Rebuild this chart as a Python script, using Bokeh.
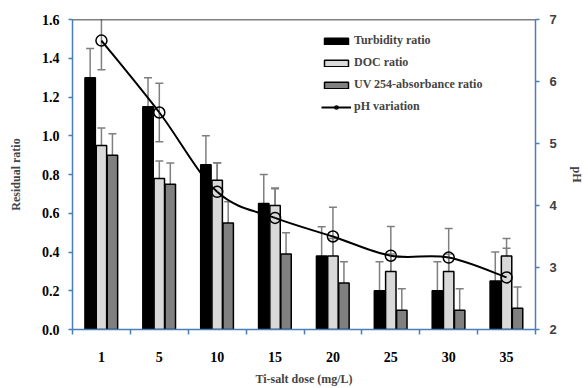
from bokeh.plotting import figure
from bokeh.models import (Range1d, LinearAxis, FixedTicker, ColumnDataSource, Whisker,
                          TeeHead, Legend, LegendItem, Span)
from bokeh.embed import file_html
from bokeh.resources import INLINE

doses = ["1", "5", "10", "15", "20", "25", "30", "35"]
turbidity = [1.30, 1.15, 0.85, 0.65, 0.38, 0.20, 0.20, 0.25]
turbidity_err = [0.15, 0.15, 0.15, 0.15, 0.15, 0.15, 0.15, 0.15]
doc = [0.95, 0.78, 0.77, 0.64, 0.38, 0.30, 0.30, 0.38]
doc_err = [0.09, 0.09, 0.09, 0.09, 0.09, 0.09, 0.09, 0.09]
uv254 = [0.90, 0.75, 0.55, 0.39, 0.24, 0.10, 0.10, 0.11]
uv254_err = [0.11, 0.11, 0.11, 0.11, 0.11, 0.11, 0.11, 0.11]
ph = [6.66, 5.50, 4.22, 3.80, 3.50, 3.19, 3.16, 2.84]
ph_err = [0.47, 0.47, 0.47, 0.47, 0.47, 0.47, 0.47, 0.47]
left_ticks = [0.0, 0.2, 0.4, 0.6, 0.8, 1.0, 1.2, 1.4, 1.6]
right_ticks = [2, 3, 4, 5, 6, 7]

SERIF = "Liberation Serif"
AXIS_BLUE = "#4a7ebb"
ERR_GRAY = "#7f7f7f"

n = len(doses)
centers = [i + 0.5 for i in range(n)]

p = figure(width=588, height=388, output_backend="svg", toolbar_location=None,
           x_range=Range1d(0, n), y_range=Range1d(0, 1.6),
           min_border_left=72, min_border_right=53, min_border_top=19, min_border_bottom=51)
p.extra_y_ranges = {"ph": Range1d(2, 7)}
p.xgrid.visible = False
p.ygrid.visible = False
p.outline_line_color = None
p.background_fill_color = "white"
p.border_fill_color = "white"

# bars
offsets = [-0.195, 0.0, 0.19]
series = [(turbidity, turbidity_err, "black"), (doc, doc_err, "#d9d9d9"), (uv254, uv254_err, "#808080")]
bar_renderers = []
err_sources = []
for (vals, errs, color), off in zip(series, offsets):
    xs = [c + off for c in centers]
    src = ColumnDataSource(dict(x=xs, top=vals,
                                upper=[v + e for v, e in zip(vals, errs)],
                                lower=[v - e for v, e in zip(vals, errs)]))
    r = p.vbar(x="x", top="top", width=0.18, bottom=0, source=src,
               fill_color=color, line_color="black", line_width=1.5)
    bar_renderers.append(r)
    err_sources.append(src)

for src in err_sources:
    w = Whisker(base="x", upper="upper", lower="lower", source=src,
                line_color=ERR_GRAY, line_width=1.5,
                upper_head=TeeHead(size=8, line_color=ERR_GRAY, line_width=1.5),
                lower_head=TeeHead(size=8, line_color=ERR_GRAY, line_width=1.5))
    p.add_layout(w)

# pH smoothed line (Bezier segments through the data points)
pts = list(zip(centers, ph))
x0, y0, x1, y1, cx0, cy0, cx1, cy1 = [], [], [], [], [], [], [], []
for i in range(n - 1):
    pm = pts[i - 1] if i > 0 else pts[i]
    pa = pts[i]
    pb = pts[i + 1]
    pn = pts[i + 2] if i + 2 < n else pts[i + 1]
    x0.append(pa[0]); y0.append(pa[1]); x1.append(pb[0]); y1.append(pb[1])
    cx0.append(pa[0] + (pb[0] - pm[0]) / 6); cy0.append(pa[1] + (pb[1] - pm[1]) / 6)
    cx1.append(pb[0] - (pn[0] - pa[0]) / 6); cy1.append(pb[1] - (pn[1] - pa[1]) / 6)
p.bezier(x0=x0, y0=y0, x1=x1, y1=y1, cx0=cx0, cy0=cy0, cx1=cx1, cy1=cy1,
         line_color="black", line_width=2, y_range_name="ph")

ph_src = ColumnDataSource(dict(x=centers, y=ph,
                               upper=[v + e for v, e in zip(ph, ph_err)],
                               lower=[v - e for v, e in zip(ph, ph_err)]))
pw = Whisker(base="x", upper="upper", lower="lower", source=ph_src, y_range_name="ph",
             line_color=ERR_GRAY, line_width=1.5,
             upper_head=TeeHead(size=8, line_color=ERR_GRAY, line_width=1.5),
             lower_head=TeeHead(size=8, line_color=ERR_GRAY, line_width=1.5))
p.add_layout(pw)
ph_marks = p.scatter("x", "y", source=ph_src, y_range_name="ph", marker="circle", size=11,
                     fill_color=None, line_color="black", line_width=1.5)
# legend-only line (hidden in the plot, the smoothed curve above is what shows)
ph_leg_line = p.line("x", "y", source=ph_src, y_range_name="ph", line_color="black",
                     line_width=2, visible=False)

# top border line
p.add_layout(Span(location=1.6, dimension="width", line_color="black", line_width=1.5))

# axes
xa = p.xaxis[0]
xa.ticker = FixedTicker(ticks=centers, minor_ticks=list(range(n + 1)))
xa.major_label_overrides = {c: d for c, d in zip(centers, doses)}
xa.major_tick_out = 0
xa.major_tick_in = 0
xa.minor_tick_out = 5
xa.minor_tick_in = 0
xa.minor_tick_line_color = AXIS_BLUE
xa.minor_tick_line_width = 1.5
xa.axis_line_color = AXIS_BLUE
xa.axis_line_width = 1.5
xa.major_label_standoff = 17
xa.major_label_text_font = SERIF
xa.major_label_text_font_style = "bold"
xa.major_label_text_font_size = "14px"
xa.major_label_text_color = "black"
xa.axis_label = "Ti-salt dose (mg/L)"
xa.axis_label_text_font = SERIF
xa.axis_label_text_font_style = "bold"
xa.axis_label_text_font_size = "12px"
xa.axis_label_standoff = 7

ya = p.yaxis[0]
ya.ticker = FixedTicker(ticks=left_ticks, minor_ticks=[])
ya.major_label_overrides = {t: f"{t:.1f}" for t in left_ticks}
ya.major_tick_out = 4
ya.major_tick_in = 0
ya.major_tick_line_color = AXIS_BLUE
ya.major_tick_line_width = 1.5
ya.axis_line_color = AXIS_BLUE
ya.axis_line_width = 1.5
ya.major_label_standoff = 9
ya.major_label_text_font = SERIF
ya.major_label_text_font_style = "bold"
ya.major_label_text_font_size = "14px"
ya.major_label_text_color = "black"
ya.axis_label = "Residual ratio"
ya.axis_label_text_font = SERIF
ya.axis_label_text_font_style = "bold"
ya.axis_label_text_font_size = "12px"
ya.axis_label_standoff = 16

ra = LinearAxis(y_range_name="ph", ticker=FixedTicker(ticks=right_ticks, minor_ticks=[]))
ra.major_tick_out = 4
ra.major_tick_in = 0
ra.major_tick_line_color = AXIS_BLUE
ra.major_tick_line_width = 1.5
ra.axis_line_color = AXIS_BLUE
ra.axis_line_width = 1.5
ra.major_label_standoff = 10
ra.major_label_text_font = "Liberation Sans"
ra.major_label_text_font_style = "bold"
ra.major_label_text_font_size = "13px"
ra.major_label_text_color = "#404040"
ra.axis_label = "pH"
ra.axis_label_text_font = SERIF
ra.axis_label_text_font_style = "bold"
ra.axis_label_text_font_size = "12px"
ra.axis_label_standoff = 10
p.add_layout(ra, "right")

legend = Legend(items=[
    LegendItem(label="Turbidity ratio", renderers=[bar_renderers[0]]),
    LegendItem(label="DOC ratio", renderers=[bar_renderers[1]]),
    LegendItem(label="UV 254-absorbance ratio", renderers=[bar_renderers[2]]),
    LegendItem(label="pH variation", renderers=[ph_leg_line, ph_marks]),
], location=(249, 215))
legend.click_policy = "none"
legend.border_line_color = None
legend.background_fill_alpha = 0
legend.padding = 0
legend.margin = 0
legend.spacing = 7
legend.glyph_width = 30
legend.glyph_height = 8
legend.label_height = 14
legend.label_standoff = 3
legend.label_text_font = SERIF
legend.label_text_font_style = "bold"
legend.label_text_font_size = "12px"
p.add_layout(legend, "center")

open("out.html", "w").write(file_html(p, INLINE))
